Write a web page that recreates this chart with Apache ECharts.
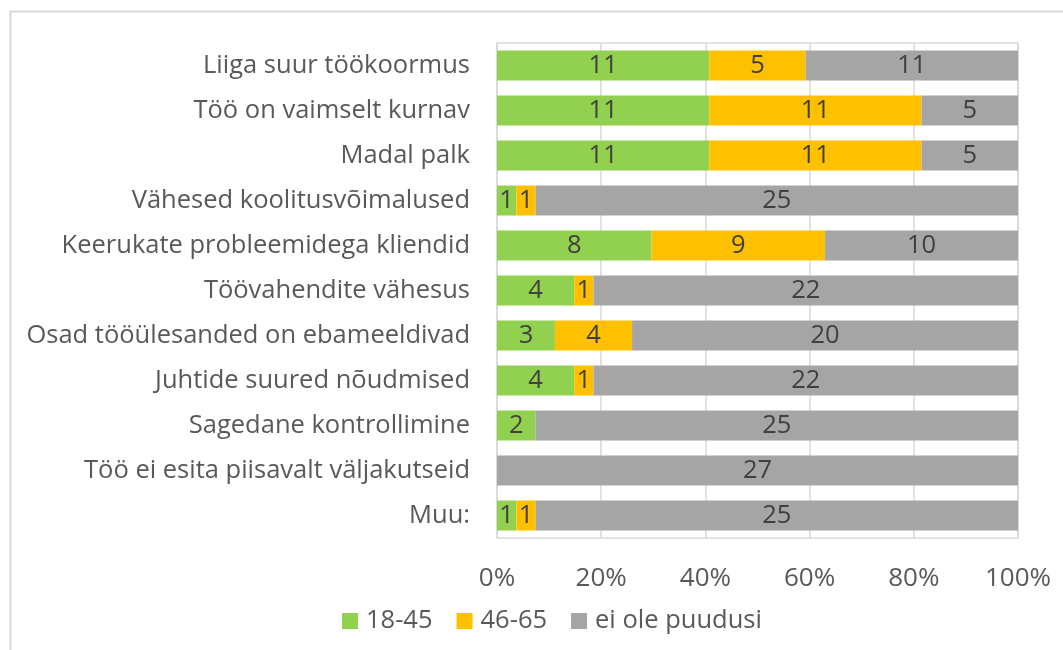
<!DOCTYPE html>
<html>
<head>
<meta charset="utf-8">
<script src="https://cdn.jsdelivr.net/npm/echarts@6/dist/echarts.min.js"></script>
<style>html,body{margin:0;padding:0;background:#fff}#c{width:1063px;height:650px}</style>
</head>
<body>
<div id="c"></div>
<script>
var categories = [
  "Liiga suur töökoormus",
  "Töö on vaimselt kurnav",
  "Madal palk",
  "Vähesed koolitusvõimalused",
  "Keerukate probleemidega kliendid",
  "Töövahendite vähesus",
  "Osad tööülesanded on ebameeldivad",
  "Juhtide suured nõudmised",
  "Sagedane kontrollimine",
  "Töö ei esita piisavalt väljakutseid",
  "Muu:"
];
var seriesNames = ["18-45", "46-65", "ei ole puudusi"];
var age18_45 = [11, 11, 11, 1, 8, 4, 3, 4, 2, 0, 1];
var age46_65 = [5, 11, 11, 1, 9, 1, 4, 1, 0, 0, 1];
var noLack = [11, 5, 5, 25, 10, 22, 20, 22, 25, 27, 25];
var xTicks = [0, 20, 40, 60, 80, 100];

var raw = [age18_45, age46_65, noLack];
var colors = ["#92D050", "#FFC000", "#A5A5A5"];
var totals = categories.map(function (_, i) { return age18_45[i] + age46_65[i] + noLack[i]; });
var font = "'Open Sans', sans-serif";

var series = raw.map(function (arr, s) {
  return {
    name: seriesNames[s],
    type: "bar",
    stack: "total",
    barWidth: 30,
    itemStyle: { color: colors[s] },
    label: {
      show: true,
      position: "inside",
      color: "#404040",
      fontSize: 25.5,
      fontFamily: font,
      padding: [6, 0, 0, 0],
      formatter: function (p) { return p.data.raw > 0 ? String(p.data.raw) : ""; }
    },
    emphasis: { disabled: true },
    data: arr.map(function (v, i) { return { value: v / totals[i] * 100, raw: v }; })
  };
});

var chart = echarts.init(document.getElementById("c"), null, { renderer: "canvas" });
chart.setOption({
  animation: false,
  backgroundColor: "#fff",
  graphic: [{
    type: "rect",
    shape: { x: 10.5, y: 11.5, width: 1200, height: 800 },
    style: { fill: null, stroke: "#D9D9D9", lineWidth: 2 },
    silent: true, z: -1
  }],
  legend: {
    data: seriesNames,
    left: 337,
    top: 603,
    itemWidth: 16,
    itemHeight: 16,
    itemGap: 24,
    icon: "rect",
    textStyle: { color: "#595959", fontSize: 25.5, fontFamily: font, padding: [2, 0, 0, 3] }
  },
  grid: { left: 497, right: 45, top: 43, bottom: 112, show: true, borderColor: "#D9D9D9", borderWidth: 1.5 },
  xAxis: {
    type: "value",
    min: 0, max: 100, interval: 20,
    axisLine: { show: false },
    axisTick: { show: false },
    splitLine: { lineStyle: { color: "#D9D9D9", width: 1.5 } },
    axisLabel: {
      color: "#595959", fontSize: 26, fontFamily: font, margin: 28,
      formatter: function (v) { return xTicks.indexOf(v) >= 0 ? v + "%" : ""; }
    }
  },
  yAxis: {
    type: "category",
    inverse: true,
    data: categories,
    axisLine: { show: false },
    axisTick: { show: false },
    axisLabel: { color: "#595959", fontSize: 25.5, fontFamily: font, margin: 27, padding: [8, 0, 0, 0] }
  },
  series: series
});
</script>
</body>
</html>
